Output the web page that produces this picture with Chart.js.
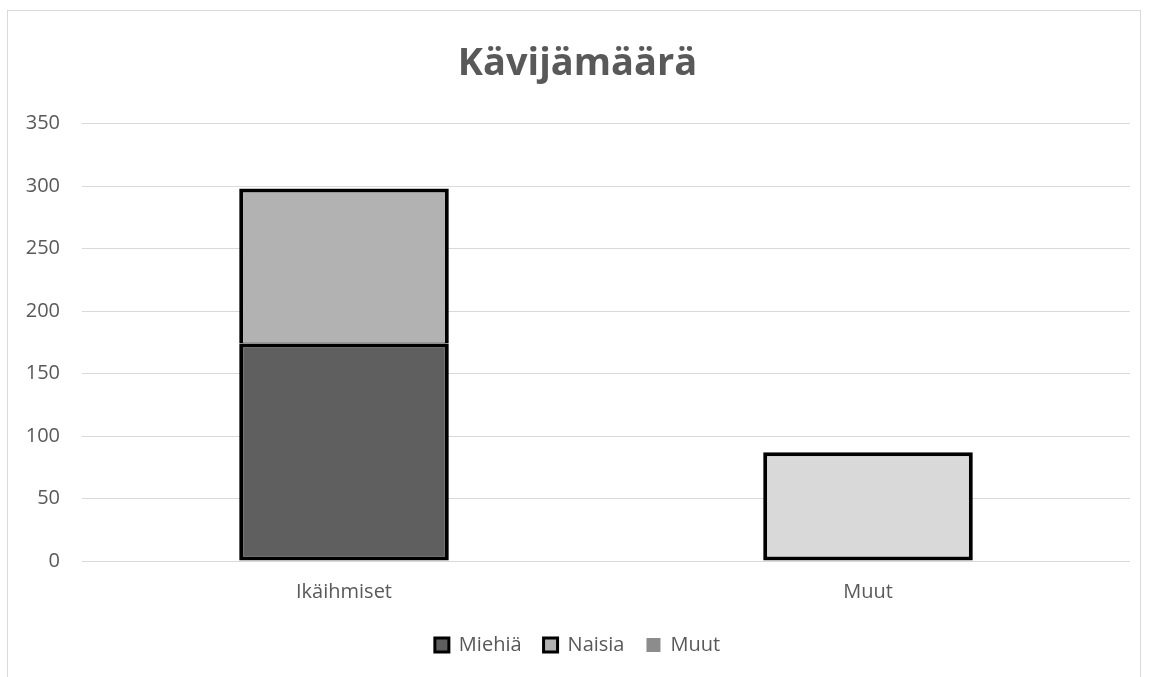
<!DOCTYPE html>
<html>
<head>
<meta charset="utf-8">
<script src="https://cdn.jsdelivr.net/npm/chart.js@4"></script>
<style>
  html, body { margin: 0; padding: 0; background: #fff; }
  #frame {
    position: absolute; left: 7px; top: 10px;
    width: 1134px; height: 670px;
    border: 1px solid #d9d9d9; box-sizing: border-box;
  }
  #chart { display: block; }
</style>
</head>
<body>
<div id="frame"><canvas id="chart" width="1132" height="668"></canvas></div>
<script>
// Categories and series
const categories = ['Ikäihmiset', 'Muut'];
const miehia = [174, 0];
const naisia = [124, 0];
const muut = [0, 87];
const yTicks = [0, 50, 100, 150, 200, 250, 300, 350];

const textColor = '#595959';
const fontFamily = '"Open Sans", sans-serif';

const ctx = document.getElementById('chart').getContext('2d');
new Chart(ctx, {
    type: 'bar',
    data: {
        labels: categories,
        datasets: [
            {
                label: 'Miehiä',
                data: miehia,
                backgroundColor: '#5f5f5f',
                borderColor: '#000',
                borderWidth: 4,
                borderSkipped: false
            },
            {
                label: 'Naisia',
                data: naisia,
                backgroundColor: '#b2b2b2',
                borderColor: '#000',
                // bottom edge is mostly drawn by the Miehiä segment
                borderWidth: { top: 4, left: 4, right: 4, bottom: 1 },
                borderSkipped: false
            },
            {
                label: 'Muut',
                data: muut,
                // the Muut bar was recoloured point by point in the original
                backgroundColor: ['#8c8c8c', '#d9d9d9'],
                borderColor: '#000',
                borderWidth: 4,
                borderSkipped: false
            }
        ]
    },
    options: {
        responsive: false,
        animation: false,
        layout: { padding: { left: 17, right: 10, top: 0, bottom: 14 } },
        datasets: { bar: { categoryPercentage: 1, barPercentage: 0.4 } },
        scales: {
            x: {
                stacked: true,
                grid: { display: false },
                border: { display: false },
                ticks: { color: textColor, font: { family: fontFamily, size: 20 }, padding: 11 },
                afterFit: (axis) => { axis.height -= 2; }
            },
            y: {
                stacked: true,
                min: 0,
                max: 350,
                afterBuildTicks: (axis) => { axis.ticks = yTicks.map(v => ({ value: v })); },
                grid: { color: '#d9d9d9', lineWidth: 1, drawTicks: false },
                border: { display: false },
                ticks: { color: textColor, font: { family: fontFamily, size: 20 }, padding: 22 },
                afterFit: (axis) => { axis.width = 57; }
            }
        },
        plugins: {
            title: {
                display: true,
                text: 'Kävijämäärä',
                color: textColor,
                font: { family: fontFamily, size: 38, weight: 'bold' },
                padding: { top: 30, bottom: 37 }
            },
            legend: {
                position: 'bottom',
                labels: {
                    color: textColor,
                    font: { family: fontFamily, size: 20 },
                    boxWidth: 14,
                    boxHeight: 14,
                    padding: 22,
                    generateLabels: () => [
                        { text: 'Miehiä', fillStyle: '#5f5f5f', strokeStyle: '#000', lineWidth: 3, fontColor: textColor, datasetIndex: 0 },
                        { text: 'Naisia', fillStyle: '#b2b2b2', strokeStyle: '#000', lineWidth: 3, fontColor: textColor, datasetIndex: 1 },
                        { text: 'Muut', fillStyle: '#8c8c8c', strokeStyle: '#8c8c8c', lineWidth: 0, fontColor: textColor, datasetIndex: 2 }
                    ]
                }
            },
            tooltip: { enabled: false }
        }
    }
});
</script>
</body>
</html>
